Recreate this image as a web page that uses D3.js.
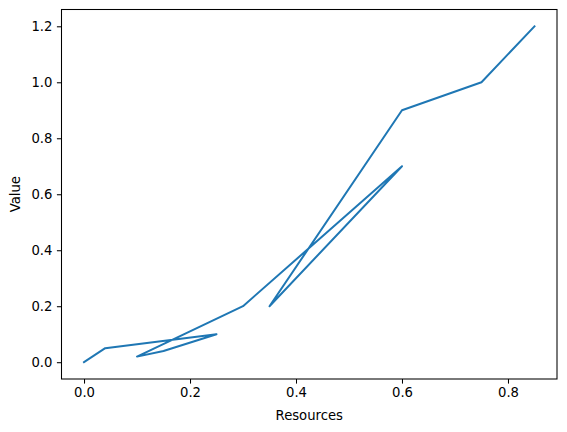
<!DOCTYPE html>
<html>
<head>
<meta charset="utf-8">
<script src="https://cdn.jsdelivr.net/npm/d3@7"></script>
<style>
  body { margin: 0; background: #fff; }
  text { font-family: "DejaVu Sans", sans-serif; fill: #000; }
</style>
</head>
<body>
<div id="chart"></div>
<script>
// data (path order matters, the line doubles back)
var resources = [0, 0.04, 0.25, 0.15, 0.1, 0.3, 0.6, 0.35, 0.6, 0.75, 0.85];
var values    = [0, 0.05, 0.1, 0.04, 0.02, 0.2, 0.7, 0.2, 0.9, 1.0, 1.2];
var xTicks = [0, 0.2, 0.4, 0.6, 0.8];
var yTicks = [0, 0.2, 0.4, 0.6, 0.8, 1.0, 1.2];

var width = 567, height = 432;
var margin = { top: 9.5, left: 61.5, bottom: 53, right: 10 };
var fontSize = "13.2px";

var svg = d3.select("#chart").append("svg")
    .attr("width", width)
    .attr("height", height);

// matplotlib style 5% padding around data
var xPad = (d3.max(resources) - d3.min(resources)) * 0.05,
    yPad = (d3.max(values) - d3.min(values)) * 0.05;

var x = d3.scaleLinear()
    .domain([d3.min(resources) - xPad, d3.max(resources) + xPad])
    .range([margin.left, width - margin.right]);
var y = d3.scaleLinear()
    .domain([d3.min(values) - yPad, d3.max(values) + yPad])
    .range([height - margin.bottom, margin.top]);

var xAxis = svg.append("g")
    .attr("transform", "translate(0," + (height - margin.bottom) + ")")
    .call(d3.axisBottom(x).tickValues(xTicks).tickFormat(d3.format(".1f")).tickSize(4.6).tickPadding(4.5));
var yAxis = svg.append("g")
    .attr("transform", "translate(" + margin.left + ",0)")
    .call(d3.axisLeft(y).tickValues(yTicks).tickFormat(d3.format(".1f")).tickSize(4.6).tickPadding(4.5));

[xAxis, yAxis].forEach(function(a) {
  a.select(".domain").remove();
  a.selectAll("line").attr("stroke", "#000").attr("stroke-width", 1.05);
  a.selectAll("text").style("font-size", fontSize).style("font-family", "DejaVu Sans");
});

// frame
svg.append("rect")
    .attr("x", margin.left)
    .attr("y", margin.top)
    .attr("width", width - margin.right - margin.left)
    .attr("height", height - margin.bottom - margin.top)
    .attr("fill", "none")
    .attr("stroke", "#000")
    .attr("stroke-width", 1.05);

var line = d3.line()
    .x(function(d, i) { return x(resources[i]); })
    .y(function(d) { return y(d); });

svg.append("path")
    .datum(values)
    .attr("d", line)
    .attr("fill", "none")
    .attr("stroke", "#1f77b4")
    .attr("stroke-width", 2)
    .attr("stroke-linejoin", "round")
    .attr("stroke-linecap", "square");

// axis labels
svg.append("text")
    .attr("x", (margin.left + width - margin.right) / 2)
    .attr("y", 420)
    .attr("text-anchor", "middle")
    .style("font-size", fontSize)
    .text("Resources");

svg.append("text")
    .attr("transform", "translate(20," + (margin.top + height - margin.bottom) / 2 + ") rotate(-90)")
    .attr("text-anchor", "middle")
    .style("font-size", fontSize)
    .text("Value");
</script>
</body>
</html>
